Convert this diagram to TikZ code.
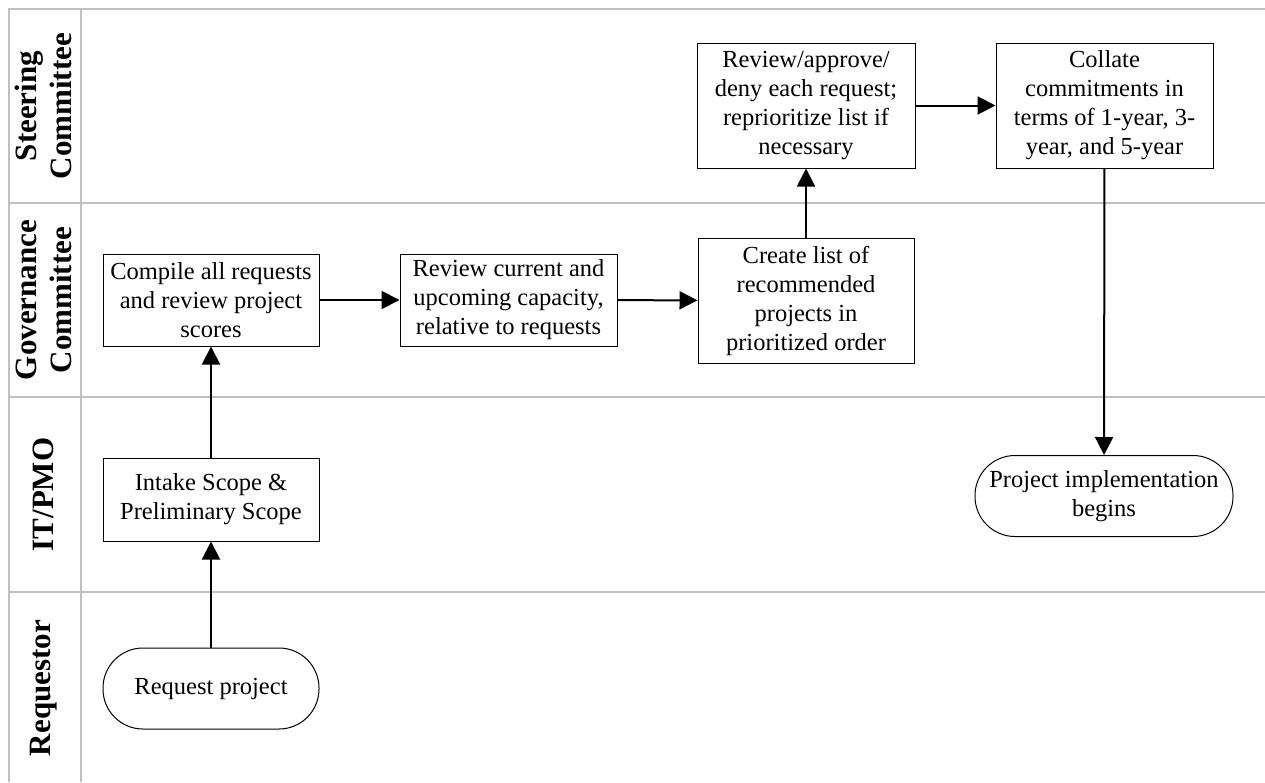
\documentclass[tikz,border=0pt]{standalone}
\usepackage{fontspec}
\setmainfont{Liberation Serif}
\usetikzlibrary{arrows.meta}

\definecolor{laneline}{RGB}{192,192,192}

\tikzset{
  lanerule/.style={draw=laneline, line width=2pt},
  lanelabel/.style={rotate=90, align=center, inner sep=0pt,
    font=\fontsize{31}{35}\selectfont\bfseries},
  procbox/.style={draw=black, line width=1pt, align=center, inner sep=2pt,
    font=\fontsize{24.5}{29}\selectfont},
  termbox/.style={procbox, rounded corners=40pt},
  flow/.style={line width=2pt, -{Triangle[length=18pt, width=18pt]}}
}

\begin{document}
\begin{tikzpicture}[x=1pt, y=-1pt]
  \useasboundingbox (0,0) rectangle (1265,782);

  % swimlane grid
  \draw[lanerule] (8.5,782) -- (8.5,9) -- (1265,9);
  \draw[lanerule] (81,9) -- (81,782);
  \draw[lanerule] (8.5,203) -- (1265,203);
  \draw[lanerule] (8.5,397) -- (1265,397);
  \draw[lanerule] (8.5,592) -- (1265,592);

  % lane headers
  \node[lanelabel] (lsteer) at (43.5,106) {Steering\\Committee};
  \node[lanelabel] (lgov)   at (43.5,300) {Governance\\Committee};
  \node[lanelabel] (lit)    at (43.5,494.5) {IT/PMO};
  \node[lanelabel] (lreq)   at (43.5,688) {Requestor};

  % process steps
  \node[termbox, minimum width=216pt, minimum height=81pt] (request) at (211,688.5) {Request project};
  \node[procbox, minimum width=216pt, minimum height=83pt] (intake) at (211,499.5) {Intake Scope \&\\Preliminary Scope};
  \node[procbox, minimum width=216pt, minimum height=92pt] (compile) at (211,300) {Compile all requests\\and review project\\scores};
  \node[procbox, minimum width=217pt, minimum height=92pt] (capacity) at (508.5,300) {Review current and\\upcoming capacity,\\relative to requests};
  \node[procbox, minimum width=216pt, minimum height=125pt] (shortlist) at (806,300.5) {Create list of\\recommended\\projects in\\prioritized order};
  \node[procbox, minimum width=218pt, minimum height=125pt] (approve) at (806,105.5) {Review/approve/\\deny each request;\\reprioritize list if\\necessary};
  \node[procbox, minimum width=217pt, minimum height=125pt] (collate) at (1104.5,105.5) {Collate\\commitments in\\terms of 1-year, 3-\\year, and 5-year};
  \node[termbox, minimum width=258pt, minimum height=81pt] (implement) at (1104,496) {Project implementation\\begins};

  % flow connectors
  \draw[flow] (request) -- (intake);
  \draw[flow] (intake) -- (compile);
  \draw[flow] (compile) -- (capacity);
  \draw[flow] (capacity) -- (shortlist);
  \draw[flow] (shortlist) -- (approve);
  \draw[flow] (approve) -- (collate);
  \draw[flow] (collate) -- (implement);
\end{tikzpicture}
\end{document}
